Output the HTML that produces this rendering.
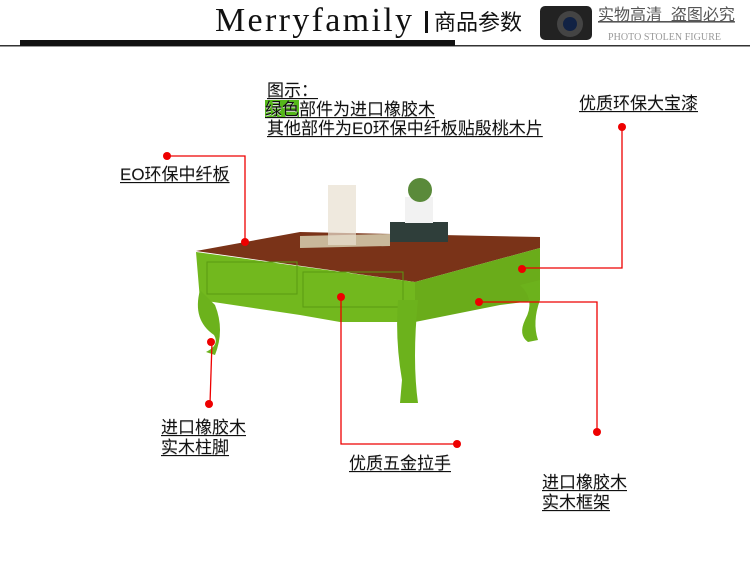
<!DOCTYPE html>
<html><head><meta charset="utf-8"><style>
body{margin:0;background:#fff;}
.w{position:relative;width:750px;height:581px;overflow:hidden;font-family:"Liberation Sans","Noto Sans CJK SC",sans-serif;}
.t{position:absolute;font-size:17px;color:#111;line-height:20px;white-space:nowrap;}
.u{text-decoration:underline;text-underline-offset:2px;text-shadow:0 1px 0 #ddd;}
</style></head><body><div class="w">
<svg width="750" height="581" style="position:absolute;left:0;top:0">
<rect x="0" y="45" width="750" height="1.5" fill="#333"/>
<rect x="20" y="40" width="435" height="6" fill="#111"/>
<text x="215" y="31" font-family="Liberation Serif,serif" font-size="34" fill="#111" textLength="197" lengthAdjust="spacing">Merryfamily</text>
<rect x="425" y="11" width="3" height="22" fill="#111"/>
<text x="434" y="30" font-family="Liberation Sans,Noto Sans CJK SC,sans-serif" font-size="22" fill="#111">商品参数</text>
<rect x="540" y="6" width="52" height="34" rx="5" fill="#222"/>
<circle cx="570" cy="24" r="13" fill="#444"/><circle cx="570" cy="24" r="7" fill="#124"/>
<text x="598" y="20" font-family="Liberation Sans,Noto Sans CJK SC,sans-serif" font-size="16" fill="#555" text-decoration="underline">实物高清 &#160;盗图必究</text>
<text x="608" y="40" font-family="Liberation Serif,serif" font-size="10" fill="#999" textLength="113">PHOTO STOLEN FIGURE</text>
<!-- table -->
<polygon points="196,251 300,232 540,237 540,248 415,282" fill="#7a3318"/>
<polygon points="300,236 390,234 390,246 300,248" fill="#c9b89a"/>
<rect x="390" y="222" width="58" height="20" fill="#2f3e3a"/>
<rect x="405" y="197" width="28" height="26" fill="#f2f2f2"/>
<circle cx="420" cy="190" r="12" fill="#5a8a3a"/>
<rect x="328" y="185" width="28" height="60" fill="#e8e0d0" opacity="0.7"/>
<polygon points="196,252 415,282 415,322 340,322 300,315 200,300" fill="#72b81e"/>
<polygon points="415,282 540,248 540,300 500,305 415,322" fill="#6aac1a"/>
<rect x="207" y="262" width="90" height="32" fill="none" stroke="#5a9a12"/>
<rect x="303" y="272" width="100" height="35" fill="none" stroke="#5a9a12"/>
<path d="M200,290 Q192,320 214,335 Q220,345 206,352 L215,355 Q225,330 215,305 Z" fill="#6cb21c"/>
<path d="M398,300 Q395,340 402,380 L400,403 L418,403 Q412,360 418,300 Z" fill="#6cb21c"/>
<path d="M520,285 Q536,300 525,320 Q518,335 528,342 L538,340 Q532,322 540,300 L540,280 Z" fill="#6cb21c"/>
<g stroke="#e00" stroke-width="1.3" fill="none">
<polyline points="167,156 245,156 245,242"/>
<polyline points="622,127 622,268 522,268"/>
<polyline points="212,342 210,404"/>
<polyline points="341,297 341,444 457,444"/>
<polyline points="478,302 597,302 597,431"/>
</g>
<g fill="#e00">
<circle cx="167" cy="156" r="4"/><circle cx="245" cy="242" r="4"/>
<circle cx="622" cy="127" r="4"/><circle cx="522" cy="269" r="4"/>
<circle cx="211" cy="342" r="4"/><circle cx="209" cy="404" r="4"/>
<circle cx="341" cy="297" r="4"/><circle cx="457" cy="444" r="4"/>
<circle cx="479" cy="302" r="4"/><circle cx="597" cy="432" r="4"/>
</g>
</svg>
<div class="t u" style="left:267px;top:81px;line-height:19px">图示：</div>
<div class="t u" style="left:265px;top:100px;line-height:19px"><span style="background:#55b81a">绿色</span>部件为进口橡胶木</div>
<div class="t u" style="left:267px;top:119px;line-height:19px">其他部件为E0环保中纤板贴殷桃木片</div>
<div class="t u" style="left:579px;top:94px">优质环保大宝漆</div>
<div class="t u" style="left:120px;top:165px">EO环保中纤板</div>
<div class="t u" style="left:161px;top:418px">进口橡胶木<br>实木柱脚</div>
<div class="t u" style="left:349px;top:454px">优质五金拉手</div>
<div class="t u" style="left:542px;top:473px">进口橡胶木<br>实木框架</div>
</div></body></html>
